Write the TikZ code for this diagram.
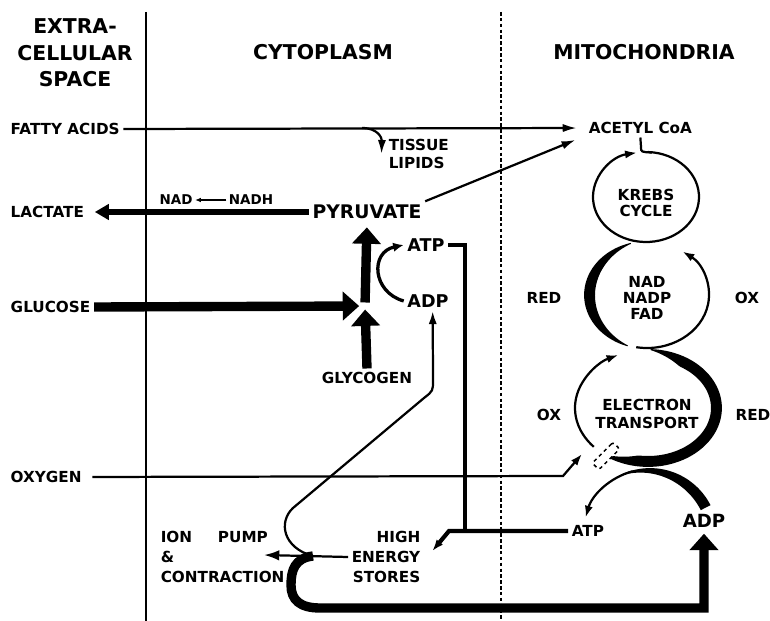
\documentclass[tikz,border=0pt]{standalone}
\usepackage{fontspec}
\setmainfont{DejaVu Sans}
\usetikzlibrary{arrows.meta}

% filled band tapering along an ellipse:
% centre x, centre y, x radius, y radius, from, to, width, profile in \t
\newcommand{\taperband}[8]{%
  \fill plot[domain=#5:#6,samples=90,variable=\t]
      ({#1+(#3+0.9)*cos(\t)},{#2+(#4+0.9)*sin(\t)})
    -- plot[domain=#6:#5,samples=90,variable=\t]
      ({#1+(#3-#7*max(0,#8))*cos(\t)},{#2+(#4-#7*max(0,#8))*sin(\t)})
    -- cycle;}

\begin{document}
\begin{tikzpicture}[x=0.03cm,y=-0.03cm,>=Latex,
  font=\fontsize{13}{15.5}\selectfont\bfseries,
  txt/.style={inner sep=3pt},
  heading/.style={font=\fontsize{17.4}{22.6}\selectfont\bfseries,align=center},
  smalltxt/.style={font=\fontsize{11.5}{13}\selectfont\bfseries,inner sep=2pt},
  bigtxt/.style={font=\fontsize{15.5}{18}\selectfont\bfseries,inner sep=3pt},
  thinline/.style={line width=1.9pt},
  midline/.style={line width=3.6pt},
  fatline/.style={line width=8pt},
  thinarrow/.style={thinline,-{Latex[length=12pt,width=7pt]}},
  fatarrow/.style={fatline,-{Triangle[length=14pt,width=24pt]}}]
\useasboundingbox (0,0) rectangle (770,621);

% compartments
\draw[line width=1.4pt] (146,12) -- (146,621);
\draw[line width=1.2pt,dash pattern=on 3pt off 2pt] (501,12) -- (501,621);
\node[heading] (hextra) at (75,53) {EXTRA-\\CELLULAR\\SPACE};
\node[heading] (hcyto) at (323,52) {CYTOPLASM};
\node[heading] (hmito) at (644,52) {MITOCHONDRIA};

% substrates and products
\node[txt,anchor=west] (fatty) at (7,129) {FATTY ACIDS};
\node[txt,anchor=west] (acetyl) at (585,128) {ACETYL CoA};
\node[txt,anchor=west,align=left] (tissue) at (385,154) {TISSUE\\LIPIDS};
\node[txt,anchor=west] (lactate) at (7,212) {LACTATE};
\node[bigtxt,font=\fontsize{16}{18}\selectfont\bfseries] (pyruvate) at (367,212) {PYRUVATE};
\node[smalltxt] (nad) at (176,200) {NAD};
\node[smalltxt] (nadh) at (251,200) {NADH};
\node[bigtxt,font=\fontsize{15}{18}\selectfont\bfseries] (atp) at (426,245) {ATP};
\node[bigtxt,font=\fontsize{15}{18}\selectfont\bfseries] (adp) at (428,301) {ADP};
\node[txt,anchor=west] (glucose) at (7,307) {GLUCOSE};
\node[txt] (glycogen) at (367,378) {GLYCOGEN};
\node[txt,anchor=west] (oxygen) at (7,477) {OXYGEN};
\node[txt,anchor=west,align=left,font=\fontsize{13}{17}\selectfont\bfseries]
  (ion) at (157,557) {ION\hspace{1.7em}PUMP\\\&\\CONTRACTION};
\node[txt,anchor=east,align=right,font=\fontsize{13}{17}\selectfont\bfseries]
  (stores) at (424,557) {HIGH\\ENERGY\\STORES};
\node[txt,anchor=west] (atp2) at (568,531) {ATP};
\node[bigtxt] (adp2) at (704,521) {ADP};

% mitochondrial cycles
\node[txt,align=center,font=\fontsize{13}{14}\selectfont\bfseries] (krebs) at (646,203) {KREBS\\CYCLE};
\node[txt,align=center,font=\fontsize{13}{14}\selectfont\bfseries] (carrier) at (647,298) {NAD\\NADP\\FAD};
\node[txt,align=center,font=\fontsize{13}{15.4}\selectfont\bfseries] (etc) at (647,414) {ELECTRON\\TRANSPORT};
\node[txt] (red1) at (544,298) {RED};
\node[txt] (ox1) at (747,298) {OX};
\node[txt] (ox2) at (549,415) {OX};
\node[txt] (red2) at (753,415) {RED};

\draw[thinline,-{Latex[length=10pt,width=7pt]}] (646,197) ++(272:53 and 45)
  arc[start angle=272,end angle=620,x radius=53,y radius=45];
\draw[thinline] (acetyl.south) -- (641,147) .. controls (641,152) .. (652,152.5);

\taperband{647}{295}{62}{53}{108}{255}{10}{sin((\t-108)/147*180)}
\draw[thinline,-{Latex[length=10pt,width=7pt]}] (647,295) ++(100:62 and 53)
  arc[start angle=100,end angle=-55,x radius=62,y radius=53];

\taperband{648}{408}{73}{58}{272}{487}{10}{min(1,2.5*sin((\t-272)/215*180))}
\draw[thinline,-{Latex[length=10pt,width=7pt]}] (648,408) ++(138:73 and 58)
  arc[start angle=138,end angle=246,x radius=73,y radius=58];

\taperband{650}{536}{67}{67}{245}{333}{10}{sin((\t-245)/88*90)}
\draw[thinline,-{Latex[length=10pt,width=7pt]}] (650,536) ++(255:67)
  arc[start angle=255,end angle=196,radius=67];

\node[draw,dashed,fill=white,rounded corners=2pt,line width=1.3pt,inner sep=0pt,
      minimum width=25pt,minimum height=8pt,rotate=45] (gate) at (606,456) {};

% fatty acids
\coordinate (fork) at (362,128);
\draw[thinarrow,shorten >=7pt] (fatty.east) -- (acetyl.west);
\draw[thinarrow] (fork) .. controls (378,128) and (382,138) .. ([xshift=-3pt]tissue.west);
\draw[thinarrow] (pyruvate.north east) -- ([xshift=-8pt,yshift=-2pt]acetyl.south west);

% glycolysis
\draw[line width=4.5pt,-{Triangle[length=12pt,width=13pt]},shorten >=6pt]
  (pyruvate.west) -- (lactate.east);
\draw[-{Latex[length=5pt,width=4pt]},line width=1.3pt] (nadh.west) -- (nad.east);
\coordinate (hub) at (365,306);
\draw[fatarrow,shorten >=5pt] (glucose.east) -- (hub);
\draw[fatarrow,shorten >=3pt] (glycogen.north) -- (hub);
\draw[fatarrow,shorten <=3pt,shorten >=4pt] (hub) -- (pyruvate.south);
\draw[line width=2.8pt,-{Latex[length=9pt,width=8pt]}]
  (adp.west) .. controls (372,292) and (370,252) .. (atp.west);

% energy transfer
\coordinate (join) at (465,531);
\draw[midline] (atp.east) -| (join);
\draw[midline,-{Latex[length=10pt,width=7pt]}]
  (atp2.west) -- (449,531) -- ([xshift=7pt,yshift=5pt]stores.east);
\coordinate (pump) at (264,555);
\coordinate (use) at (313,556);
\draw[thinline,-{Latex[length=13pt,width=9pt]}] (stores.west) -- (pump);
\draw[thinline,-{Latex[length=11pt,width=7pt]}]
  (use) .. controls (283,548) and (278,522) .. (293,508) -- (424,398)
  .. controls (433,391) .. (433,380) -- ([xshift=4pt]adp.south);
\draw[fatarrow,shorten >=2pt]
  (use) .. controls (295,558) and (291,570) .. (291,585)
  .. controls (291,600) and (300,608) .. (320,608) -- (704,608) -- (adp2.south);

% oxygen
\coordinate (o2) at (582,454);
\draw[thinline,-{Latex[length=10pt,width=7pt]},shorten <=6pt]
  (oxygen.east) -- (563,476) -- (o2);
\end{tikzpicture}
\end{document}
